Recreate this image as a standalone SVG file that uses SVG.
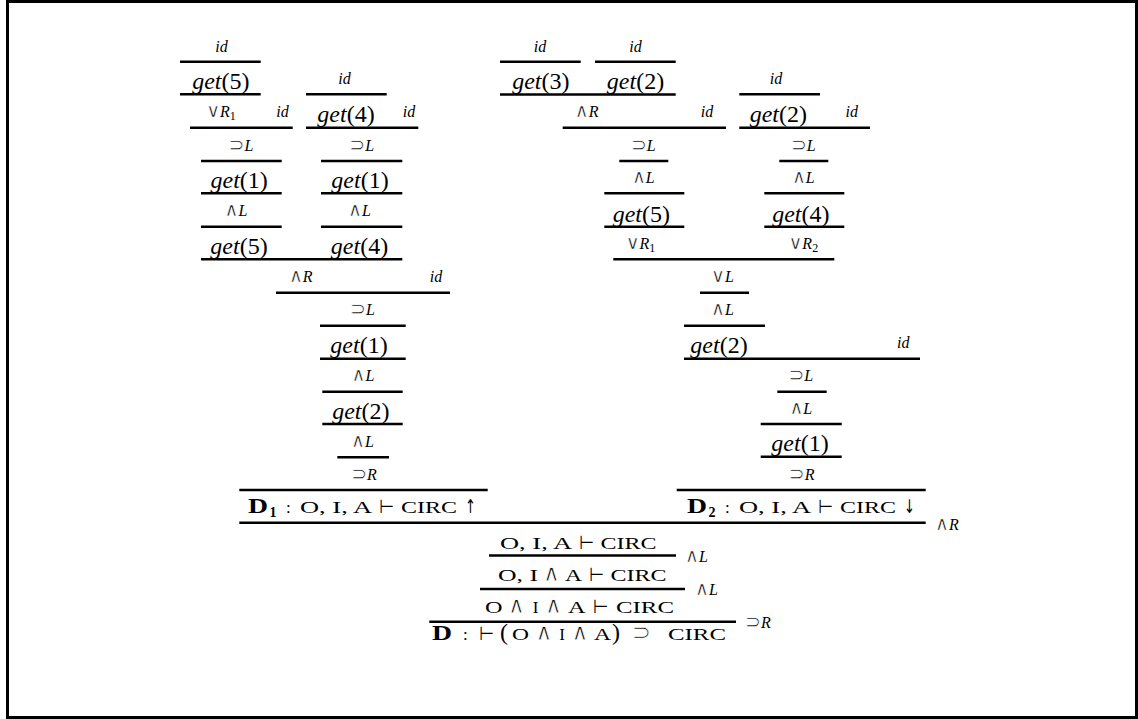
<svg xmlns="http://www.w3.org/2000/svg" width="1138" height="719" viewBox="0 0 1138 719">
<style>
text { font-family: "Liberation Serif", "DejaVu Serif", serif; fill: #000; }
.g { font-size: 24px; text-anchor: middle; }
.r { font-size: 16px; text-anchor: middle; }
.ra { font-size: 16px; }
.it { font-style: italic; }
.op { font-family: "DejaVu Sans", sans-serif; font-size: 19px; font-style: normal; stroke: #fff; stroke-width: 0.6px; }
.sm { font-size: 12px; }
.sc { font-size: 17px; }
.sy { font-family: "DejaVu Sans", sans-serif; font-size: 23px; stroke: #fff; stroke-width: 0.8px; text-anchor: middle; }
.tu { font-family: "DejaVu Sans", sans-serif; font-size: 19px; }
.ar { font-family: "DejaVu Sans", sans-serif; font-size: 19px; }
.pa { font-size: 24px; }
.bd { font-weight: bold; font-size: 21px; }
.bs { font-weight: bold; font-size: 14px; }
#connectors line { stroke: #000; stroke-width: 2.5; }
</style>
<rect x="7.5" y="1.5" width="1129" height="716" fill="#fff" stroke="#000" stroke-width="3"/>

<g id="connectors">
  <line x1="180" y1="61.7" x2="260.7" y2="61.7"/>
  <line x1="180" y1="94.3" x2="260.7" y2="94.3"/>
  <line x1="306" y1="94.3" x2="386.7" y2="94.3"/>
  <line x1="190" y1="127.7" x2="292.7" y2="127.7"/>
  <line x1="306" y1="127.7" x2="418.3" y2="127.7"/>
  <line x1="201" y1="161" x2="281.7" y2="161"/>
  <line x1="321" y1="161" x2="402.3" y2="161"/>
  <line x1="201" y1="193.3" x2="281.7" y2="193.3"/>
  <line x1="321" y1="193.3" x2="402.3" y2="193.3"/>
  <line x1="201" y1="226.7" x2="281.7" y2="226.7"/>
  <line x1="321" y1="226.7" x2="402.3" y2="226.7"/>
  <line x1="201" y1="259.3" x2="402.3" y2="259.3"/>
  <line x1="276" y1="292.7" x2="450" y2="292.7"/>
  <line x1="320" y1="325.7" x2="405.7" y2="325.7"/>
  <line x1="320" y1="358.7" x2="405.7" y2="358.7"/>
  <line x1="322.3" y1="391.7" x2="402.7" y2="391.7"/>
  <line x1="322.3" y1="424" x2="402.7" y2="424"/>
  <line x1="337.3" y1="457.3" x2="389" y2="457.3"/>
  <line x1="239.3" y1="490" x2="487.7" y2="490"/>
  <line x1="500" y1="61.7" x2="580.7" y2="61.7"/>
  <line x1="595" y1="61.7" x2="675.7" y2="61.7"/>
  <line x1="500" y1="94.5" x2="675.7" y2="94.5"/>
  <line x1="739.3" y1="94.3" x2="820" y2="94.3"/>
  <line x1="562.7" y1="127.7" x2="726" y2="127.7"/>
  <line x1="739.3" y1="127.7" x2="870" y2="127.7"/>
  <line x1="619.3" y1="161" x2="668.3" y2="161"/>
  <line x1="779.3" y1="161" x2="828.3" y2="161"/>
  <line x1="604.3" y1="193.3" x2="684.3" y2="193.3"/>
  <line x1="764.3" y1="193.3" x2="844.3" y2="193.3"/>
  <line x1="604.3" y1="226.7" x2="684.3" y2="226.7"/>
  <line x1="764.3" y1="226.7" x2="844.3" y2="226.7"/>
  <line x1="613.3" y1="259.3" x2="834.3" y2="259.3"/>
  <line x1="700" y1="292.7" x2="749" y2="292.7"/>
  <line x1="684" y1="325.7" x2="765" y2="325.7"/>
  <line x1="684" y1="358.7" x2="920" y2="358.7"/>
  <line x1="777.3" y1="391.7" x2="826.7" y2="391.7"/>
  <line x1="760.7" y1="424" x2="841.7" y2="424"/>
  <line x1="760.7" y1="456.7" x2="841.7" y2="456.7"/>
  <line x1="676.7" y1="490" x2="925.7" y2="490"/>
  <line x1="239.3" y1="522.7" x2="925.7" y2="522.7"/>
  <line x1="489" y1="555.5" x2="676" y2="555.5"/>
  <line x1="480" y1="589" x2="685" y2="589"/>
  <line x1="429.3" y1="621.7" x2="736" y2="621.7"/>
</g>

<g id="left-tree">
  <text class="r it" x="221.6" y="52">id</text>
  <text class="g" x="220.8" y="89"><tspan class="it">get</tspan>(5)</text>
  <text class="r it" x="344.5" y="83.5">id</text>
  <text class="r" x="221" y="117.3"><tspan class="op">∨</tspan><tspan class="it">R</tspan><tspan class="sm" dy="3">1</tspan></text>
  <text class="r it" x="282.5" y="117.3">id</text>
  <text class="g" x="346" y="122"><tspan class="it">get</tspan>(4)</text>
  <text class="r it" x="409" y="117.3">id</text>
  <text class="r" x="241" y="150.5"><tspan class="op">⊃</tspan><tspan class="it">L</tspan></text>
  <text class="r" x="361.7" y="150.5"><tspan class="op">⊃</tspan><tspan class="it">L</tspan></text>
  <text class="g" x="239.2" y="188"><tspan class="it">get</tspan>(1)</text>
  <text class="g" x="360" y="188"><tspan class="it">get</tspan>(1)</text>
  <text class="r" x="236" y="216.3"><tspan class="op">∧</tspan><tspan class="it">L</tspan></text>
  <text class="r" x="359.5" y="216.3"><tspan class="op">∧</tspan><tspan class="it">L</tspan></text>
  <text class="g" x="239" y="254"><tspan class="it">get</tspan>(5)</text>
  <text class="g" x="359.5" y="254"><tspan class="it">get</tspan>(4)</text>
  <text class="r" x="300.8" y="282"><tspan class="op">∧</tspan><tspan class="it">R</tspan></text>
  <text class="r it" x="436" y="282">id</text>
  <text class="r" x="362.5" y="315.2"><tspan class="op">⊃</tspan><tspan class="it">L</tspan></text>
  <text class="g" x="359" y="353.4"><tspan class="it">get</tspan>(1)</text>
  <text class="r" x="363" y="381.2"><tspan class="op">∧</tspan><tspan class="it">L</tspan></text>
  <text class="g" x="360.8" y="418.7"><tspan class="it">get</tspan>(2)</text>
  <text class="r" x="362.5" y="446.8"><tspan class="op">∧</tspan><tspan class="it">L</tspan></text>
  <text class="r" x="364" y="479.5"><tspan class="op">⊃</tspan><tspan class="it">R</tspan></text>
</g>

<g id="D1">
  <text class="bd" x="248" y="512.5" textLength="20" lengthAdjust="spacingAndGlyphs">D</text>
  <text class="bs" x="269.5" y="516.5">1</text>
  <text class="sc" x="286" y="512.5">:</text>
  <text class="sc" x="300" y="512.5" textLength="72" lengthAdjust="spacingAndGlyphs">O, I, A</text>
  <text class="tu" x="379" y="512.5" textLength="15" lengthAdjust="spacingAndGlyphs">⊢</text>
  <text class="sc" x="401" y="512.5" textLength="56" lengthAdjust="spacingAndGlyphs">CIRC</text>
  <text class="ar" x="465" y="512.5" textLength="11" lengthAdjust="spacingAndGlyphs">↑</text>
</g>

<g id="right-tree">
  <text class="r it" x="540" y="52">id</text>
  <text class="r it" x="635.5" y="52">id</text>
  <text class="g" x="540.8" y="89"><tspan class="it">get</tspan>(3)</text>
  <text class="g" x="635.5" y="89"><tspan class="it">get</tspan>(2)</text>
  <text class="r it" x="776" y="83.5">id</text>
  <text class="r" x="586.7" y="117.3"><tspan class="op">∧</tspan><tspan class="it">R</tspan></text>
  <text class="r it" x="707" y="117.3">id</text>
  <text class="g" x="778.3" y="122"><tspan class="it">get</tspan>(2)</text>
  <text class="r it" x="851.7" y="117.3">id</text>
  <text class="r" x="643.3" y="150.5"><tspan class="op">⊃</tspan><tspan class="it">L</tspan></text>
  <text class="r" x="803.3" y="150.5"><tspan class="op">⊃</tspan><tspan class="it">L</tspan></text>
  <text class="r" x="643.3" y="183"><tspan class="op">∧</tspan><tspan class="it">L</tspan></text>
  <text class="r" x="803.3" y="183"><tspan class="op">∧</tspan><tspan class="it">L</tspan></text>
  <text class="g" x="641.3" y="221.5"><tspan class="it">get</tspan>(5)</text>
  <text class="g" x="800.8" y="221.5"><tspan class="it">get</tspan>(4)</text>
  <text class="r" x="640.5" y="248.8"><tspan class="op">∨</tspan><tspan class="it">R</tspan><tspan class="sm" dy="3">1</tspan></text>
  <text class="r" x="803.3" y="248.8"><tspan class="op">∨</tspan><tspan class="it">R</tspan><tspan class="sm" dy="3">2</tspan></text>
  <text class="r" x="722.5" y="282"><tspan class="op">∨</tspan><tspan class="it">L</tspan></text>
  <text class="r" x="722.5" y="315.2"><tspan class="op">∧</tspan><tspan class="it">L</tspan></text>
  <text class="g" x="719" y="353.4"><tspan class="it">get</tspan>(2)</text>
  <text class="r it" x="903.3" y="348.2">id</text>
  <text class="r" x="800.8" y="381.2"><tspan class="op">⊃</tspan><tspan class="it">L</tspan></text>
  <text class="r" x="800.8" y="413.5"><tspan class="op">∧</tspan><tspan class="it">L</tspan></text>
  <text class="g" x="800" y="451.4"><tspan class="it">get</tspan>(1)</text>
  <text class="r" x="801.7" y="479.5"><tspan class="op">⊃</tspan><tspan class="it">R</tspan></text>
</g>

<g id="D2">
  <text class="bd" x="687" y="512.5" textLength="20" lengthAdjust="spacingAndGlyphs">D</text>
  <text class="bs" x="708.5" y="516.5">2</text>
  <text class="sc" x="725" y="512.5">:</text>
  <text class="sc" x="739" y="512.5" textLength="72" lengthAdjust="spacingAndGlyphs">O, I, A</text>
  <text class="tu" x="818" y="512.5" textLength="15" lengthAdjust="spacingAndGlyphs">⊢</text>
  <text class="sc" x="840" y="512.5" textLength="56" lengthAdjust="spacingAndGlyphs">CIRC</text>
  <text class="ar" x="904" y="512.5" textLength="11" lengthAdjust="spacingAndGlyphs">↓</text>
</g>

<g id="rule-labels">
  <text class="ra" x="935" y="530"><tspan class="op">∧</tspan><tspan class="it">R</tspan></text>
  <text class="ra" x="685" y="561.7"><tspan class="op">∧</tspan><tspan class="it">L</tspan></text>
  <text class="ra" x="695" y="595"><tspan class="op">∧</tspan><tspan class="it">L</tspan></text>
  <text class="ra" x="745" y="628"><tspan class="op">⊃</tspan><tspan class="it">R</tspan></text>
</g>

<g id="s1">
  <text class="sc" x="500" y="548.5" textLength="72" lengthAdjust="spacingAndGlyphs">O, I, A</text>
  <text class="tu" x="579" y="548.5" textLength="15" lengthAdjust="spacingAndGlyphs">⊢</text>
  <text class="sc" x="600.6" y="548.5" textLength="56" lengthAdjust="spacingAndGlyphs">CIRC</text>
</g>

<g id="s2">
  <text class="sc" x="498" y="581" textLength="40" lengthAdjust="spacingAndGlyphs">O, I</text>
  <text class="sy" x="551.4" y="581">∧</text>
  <text class="sc" x="565" y="581" textLength="17" lengthAdjust="spacingAndGlyphs">A</text>
  <text class="tu" x="589" y="581" textLength="15" lengthAdjust="spacingAndGlyphs">⊢</text>
  <text class="sc" x="610.6" y="581" textLength="56" lengthAdjust="spacingAndGlyphs">CIRC</text>
</g>

<g id="s3">
  <text class="sc" x="485" y="613" textLength="17.5" lengthAdjust="spacingAndGlyphs">O</text>
  <text class="sy" x="516.5" y="613">∧</text>
  <text class="sc" x="535.5" y="613" text-anchor="middle">I</text>
  <text class="sy" x="553.5" y="613">∧</text>
  <text class="sc" x="568" y="613" textLength="17.6" lengthAdjust="spacingAndGlyphs">A</text>
  <text class="tu" x="592.7" y="613" textLength="15.5" lengthAdjust="spacingAndGlyphs">⊢</text>
  <text class="sc" x="616" y="613" textLength="58" lengthAdjust="spacingAndGlyphs">CIRC</text>
</g>

<g id="D">
  <text class="bd" x="432" y="640" textLength="20" lengthAdjust="spacingAndGlyphs">D</text>
  <text class="sc" x="463" y="640">:</text>
  <text class="tu" x="479" y="640" textLength="15" lengthAdjust="spacingAndGlyphs">⊢</text>
  <text class="pa" x="500" y="640">(</text>
  <text class="sc" x="512" y="640" textLength="17" lengthAdjust="spacingAndGlyphs">O</text>
  <text class="sy" x="544" y="640">∧</text>
  <text class="sc" x="562" y="640" text-anchor="middle">I</text>
  <text class="sy" x="580" y="640">∧</text>
  <text class="sc" x="594" y="640" textLength="17" lengthAdjust="spacingAndGlyphs">A</text>
  <text class="pa" x="612" y="640">)</text>
  <text class="sy" x="641.5" y="640">⊃</text>
  <text class="sc" x="668" y="640" textLength="58" lengthAdjust="spacingAndGlyphs">CIRC</text>
</g>
</svg>
